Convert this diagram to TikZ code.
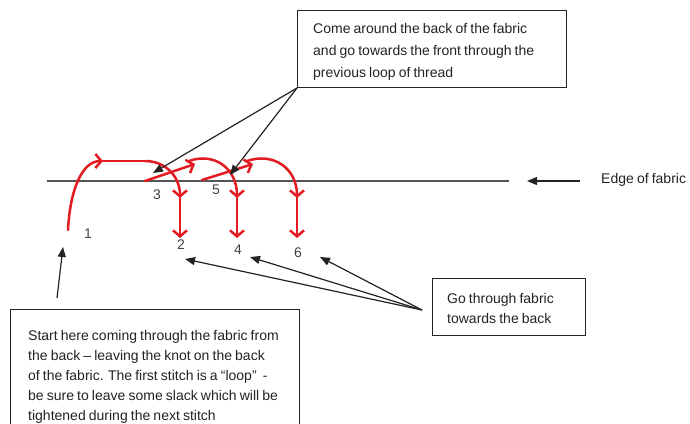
\documentclass[tikz,border=0pt]{standalone}
\usepackage{fontspec}
\setmainfont[WordSpace=0.8]{Liberation Sans}
\usetikzlibrary{arrows.meta}
\definecolor{threadred}{RGB}{226,28,34}
\definecolor{ink}{RGB}{35,35,35}
\definecolor{edgegray}{RGB}{85,85,85}
\begin{document}
\begin{tikzpicture}[x=1pt,y=-1pt,
  thread/.style={draw=threadred, line width=2.5pt, line cap=round},
  chev/.style={-{Straight Barb[length=6pt,width=14pt]}},
  pointer/.style={draw=ink, line width=1.2pt, -{Triangle[length=10pt,width=8pt]}},
  frame/.style={draw=ink, line width=1.2pt, inner sep=0pt, anchor=north west},
  boxtext/.style={align=left, text=ink, inner sep=0pt, anchor=north west},
  lab/.style={text=ink!85, font=\fontsize{14}{16}\selectfont, inner sep=0pt},
  txt/.style={text=ink, font=\fontsize{14}{16}\selectfont, inner sep=0pt}]
\useasboundingbox (0,0) rectangle (690,423);
\clip (0,0) rectangle (690,423);
\fill[white] (0,0) rectangle (690,423);

% edge of fabric
\coordinate (edgeL) at (47,181);
\coordinate (edgeR) at (509,181);
\draw[draw=edgegray, line width=1.6pt] (edgeL) -- (edgeR);
\node[txt, anchor=west] (edgetxt) at (601,180) {Edge of fabric};
\coordinate (edgeTail) at (580,181);
\coordinate (edgeTip) at (527,181);
\draw[pointer] (edgeTail) -- (edgeTip);

% stitch points
\coordinate (p1) at (68,230);
\coordinate (c1) at (103,161);
\coordinate (t1) at (145,161);
\coordinate (d2a) at (180,198);
\coordinate (d2b) at (180,238);
\coordinate (p3) at (145,181);
\coordinate (c3) at (195,164);
\coordinate (a3) at (189,161);
\coordinate (d4a) at (237,198);
\coordinate (d4b) at (237,238);
\coordinate (p5) at (202,180);
\coordinate (c5) at (253,164);
\coordinate (a5) at (247,161);
\coordinate (d6a) at (297,198);
\coordinate (d6b) at (297,238);

% thread
\draw[thread, chev] (p1) .. controls (70,190) and (82,161) .. (c1);
\draw[thread] (c1) -- (t1);
\draw[thread, chev] (t1) .. controls (165,161) and (180,176) .. (d2a);
\draw[thread, chev] (d2a) -- (d2b);

\draw[thread, chev] (p3) -- (c3);
\draw[thread, chev] (a3) .. controls (214,152) and (237,168) .. (d4a);
\draw[thread, chev] (d4a) -- (d4b);

\draw[thread, chev] (p5) -- (c5);
\draw[thread, chev] (a5) .. controls (273,152) and (297,168) .. (d6a);
\draw[thread, chev] (d6a) -- (d6b);

% numbers
\node[lab] (n1) at (88,234) {1};
\node[lab] (n2) at (181,245) {2};
\node[lab] (n3) at (157,195) {3};
\node[lab] (n4) at (238,250) {4};
\node[lab] (n5) at (216,190) {5};
\node[lab] (n6) at (298,253) {6};

% top box
\node[frame, minimum width=269pt, minimum height=77pt] (topbox) at (297,10) {};
\node[boxtext, font=\fontsize{14}{22}\selectfont] (toptext) at (313,23)
  {Come around the back of the fabric\\and go towards the front through the\\previous loop of thread};
\coordinate (topO) at (297,88);
\coordinate (tip3) at (153,173);
\coordinate (tip5) at (230,175);
\draw[pointer] (topO) -- (tip3);
\draw[pointer] (topO) -- (tip5);

% right box
\node[frame, minimum width=153pt, minimum height=57pt] (rightbox) at (432,278) {};
\node[boxtext, font=\fontsize{14}{20}\selectfont] (righttext) at (447,293)
  {Go through fabric\\towards the back};
\coordinate (fanO) at (422,310);
\coordinate (tip2) at (185,259);
\coordinate (tip4) at (250,257);
\coordinate (tip6) at (320,257);
\draw[pointer] (fanO) -- (tip2);
\draw[pointer] (fanO) -- (tip4);
\draw[pointer] (fanO) -- (tip6);

% bottom box
\node[frame, minimum width=289pt, minimum height=130pt] (startbox) at (10,309) {};
\node[boxtext, font=\fontsize{14}{20}\selectfont] (starttext) at (28,330)
  {Start here coming through the fabric from\\the back -- leaving the knot on the back\\of the fabric. The first stitch is a “loop”~ -\\be sure to leave some slack which will be\\tightened during the next stitch};
\coordinate (startO) at (57,298);
\coordinate (tip1) at (63,247);
\draw[pointer] (startO) -- (tip1);
\end{tikzpicture}
\end{document}
